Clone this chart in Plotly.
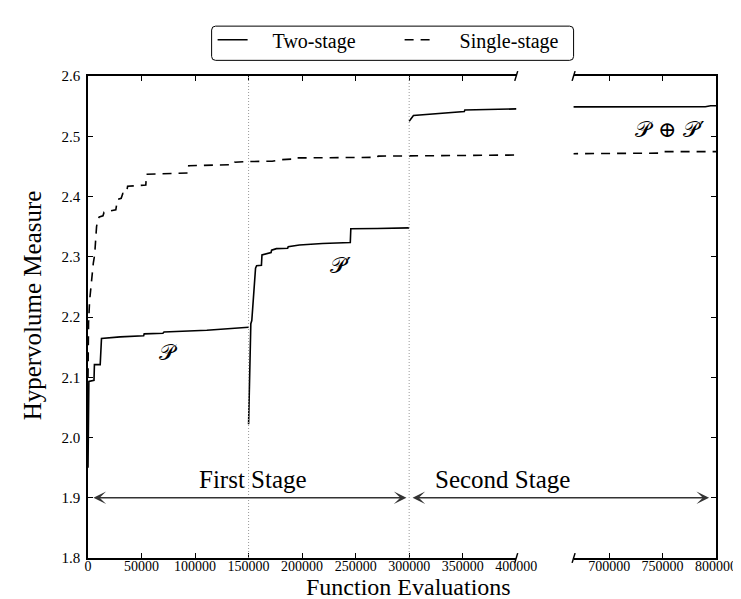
import plotly.graph_objects as go

# ---------------- data ----------------
two_stage_x = [0, 800, 5600, 6000, 11400, 11700, 12300, 12600, 30000, 52000, 52500, 70000, 71000,
               110000, 111000, 150000, None,
               150000, 151200, 152100, 153000, 154900, 156500, 157500, 162000, 162500, 166000,
               171000, 171500, 176000, 186500, 187000, 197500, 219000, 245000, 245500, 270000, 300000, None,
               300000, 304000, 351500, 352000, 400000, 667000, 790000, 795000, 800000]
two_stage_y = [1.95, 2.093, 2.095, 2.121, 2.121, 2.145, 2.145, 2.1645, 2.167, 2.169, 2.172, 2.173, 2.175,
               2.177, 2.178, 2.183, None,
               2.022, 2.124, 2.189, 2.194, 2.243, 2.281, 2.285, 2.286, 2.303, 2.305,
               2.307, 2.311, 2.3135, 2.314, 2.3165, 2.3195, 2.322, 2.3235, 2.3465, 2.347, 2.348, None,
               2.525, 2.5346, 2.541, 2.5435, 2.5454, 2.5487, 2.549, 2.5505, 2.5505]

single_stage_x = [0, 500, 1500, 3500, 5000, 6200, 8000, 9300, 10500, 14000, 15000, 26000, 27500, 31000,
                  32500, 36000, 37000, 54000, 54600, 93500, 94100, 136000, 137000, 150000, 172000,
                  180000, 190000, 191000, 270000, 271000, 400000, 667000, 748000, 750000, 800000]
single_stage_y = [2.10, 2.19, 2.227, 2.27, 2.29, 2.303, 2.35, 2.363, 2.366, 2.368, 2.374, 2.378, 2.395, 2.397,
                  2.405, 2.406, 2.417, 2.419, 2.437, 2.439, 2.451, 2.453, 2.457, 2.458, 2.4585,
                  2.461, 2.462, 2.464, 2.465, 2.467, 2.468, 2.472, 2.472, 2.4745, 2.4745]

left_ticks = [0, 50000, 100000, 150000, 200000, 250000, 300000, 350000, 400000]
left_tick_labels = ["0", "50000", "100000", "150000", "200000", "250000", "300000", "350000", "400000"]
right_ticks = [700000, 750000, 800000]
right_tick_labels = ["700000", "750000", "800000"]
y_ticks = [1.8, 1.9, 2.0, 2.1, 2.2, 2.3, 2.4, 2.5, 2.6]
y_tick_labels = ["1.8", "1.9", "2.0", "2.1", "2.2", "2.3", "2.4", "2.5", "2.6"]
stage_bounds = [150000, 300000]

# ---------------- geometry ----------------
W, H = 741, 599
ML, MR, MT, MB = 80, 26, 57, 49
PW, PH = W - ML - MR, H - MT - MB
left_end = 433 / PW
right_start = 491 / PW

def px(xp):
    return (xp - ML) / PW

def py(yp):
    return (H - MB - yp) / PH

SERIF = "Liberation Serif, Times New Roman, serif"
MATH = "DejaVu Serif, DejaVu Sans, serif"
PAD = "\u00a0" * 4
PRIME = "<span style='font-family:DejaVu Sans'>′</span>"

fig = go.Figure()
for xa, ya, show in (("x", "y", True), ("x2", "y2", False)):
    fig.add_trace(go.Scatter(x=two_stage_x, y=two_stage_y, mode="lines", name=PAD + "Two-stage",
                             line=dict(color="black", width=1.6), xaxis=xa, yaxis=ya,
                             showlegend=show, connectgaps=False))
    fig.add_trace(go.Scatter(x=single_stage_x, y=single_stage_y, mode="lines", name=PAD + "Single-stage",
                             line=dict(color="black", width=1.6, dash="9px,7px"), xaxis=xa, yaxis=ya,
                             showlegend=show))

axis_common = dict(showgrid=False, zeroline=False, showline=True, linecolor="black", linewidth=1.5,
                   ticks="inside", ticklen=5, tickwidth=1, tickcolor="black",
                   tickfont=dict(family=SERIF, size=15, color="black"))
xtickfont = dict(family=SERIF, size=14, color="black")

fig.update_layout(
    width=W, height=H, autosize=False,
    margin=dict(l=ML, r=MR, t=MT, b=MB, pad=0),
    plot_bgcolor="white", paper_bgcolor="white",
    xaxis=dict(domain=[0, left_end], range=[0, 400000], tickmode="array", tickvals=left_ticks,
               ticktext=left_tick_labels, mirror="ticks", anchor="y", ticklabelstandoff=-6,
               **{**axis_common, "tickfont": xtickfont}),
    xaxis2=dict(domain=[right_start, 1], range=[666667, 800000], tickmode="array", tickvals=right_ticks,
                ticktext=right_tick_labels, mirror="ticks", anchor="y2", ticklabelstandoff=-6,
                **{**axis_common, "tickfont": xtickfont}),
    yaxis=dict(domain=[0, 1], range=[1.8, 2.6], tickmode="array", tickvals=y_ticks, ticktext=y_tick_labels,
               anchor="x", ticklabelstandoff=3, **axis_common),
    yaxis2=dict(domain=[0, 1], range=[1.8, 2.6], tickmode="array", tickvals=y_ticks, showticklabels=False,
                anchor="x2", side="right", **axis_common),
    legend=dict(orientation="h", x=px(206), y=py(0), xanchor="left", yanchor="top",
                bgcolor="rgba(0,0,0,0)", borderwidth=0, font=dict(family=SERIF, size=20, color="black"),
                entrywidth=142, entrywidthmode="pixels", itemwidth=30),
)

shapes = []
# stage boundaries
for b in stage_bounds:
    shapes.append(dict(type="line", xref="x", yref="paper", x0=b, x1=b, y0=0, y1=1,
                       line=dict(color="#999999", width=1, dash="1px,2px")))
# axis break marks
for xb in (513, 571):
    for yb in (MT, H - MB):
        shapes.append(dict(type="line", xref="paper", yref="paper",
                           x0=px(xb - 1.5), x1=px(xb + 1.5), y0=py(yb + 5), y1=py(yb - 5),
                           line=dict(color="black", width=1.5)))
# legend frame with rounded corners (pixel coordinates converted to paper)
x0, x1, y0, y1, r = 205, 571, 6, 41, 4
path = (f"M {x0 + r},{y0} L {x1 - r},{y0} Q {x1},{y0} {x1},{y0 + r} L {x1},{y1 - r} Q {x1},{y1} {x1 - r},{y1} "
        f"L {x0 + r},{y1} Q {x0},{y1} {x0},{y1 - r} L {x0},{y0 + r} Q {x0},{y0} {x0 + r},{y0} Z")

def pix_path_to_paper(p):
    out = []
    for tok in p.split():
        if "," in tok:
            a, b = tok.split(",")
            out.append(f"{px(float(a)):.5f},{py(float(b)):.5f}")
        else:
            out.append(tok)
    return " ".join(out)

shapes.append(dict(type="path", xref="paper", yref="paper", path=pix_path_to_paper(path),
                   line=dict(color="black", width=1), fillcolor="rgba(0,0,0,0)"))
fig.update_layout(shapes=shapes)

ann = []
# stage arrows
ann.append(dict(xref="x", yref="y", x=297500, y=1.9, axref="x", ayref="y", ax=3700, ay=1.9, text="",
                showarrow=True, arrowside="end+start", arrowhead=3, startarrowhead=3, arrowsize=1.4,
                startarrowsize=1.4, arrowwidth=1.5, arrowcolor="#333333"))
ann.append(dict(xref="x2", yref="y", x=793500, y=1.9, ax=-(708 - 410), ay=0, text="",
                showarrow=True, arrowside="end+start", arrowhead=3, startarrowhead=3, arrowsize=1.4,
                startarrowsize=1.4, arrowwidth=1.5, arrowcolor="#333333"))
ann.append(dict(xref="x", yref="y", x=154300, y=1.931, text="First Stage", showarrow=False,
                font=dict(family=SERIF, size=25, color="black")))
ann.append(dict(xref="paper", yref="y", x=px(569), y=1.931, text="Second Stage", showarrow=False,
                font=dict(family=SERIF, size=25, color="black")))
# curve labels
ann.append(dict(xref="x", yref="y", x=75600, y=2.1406, text="𝒫", showarrow=False,
                font=dict(family=MATH, size=22, color="black")))
ann.append(dict(xref="x", yref="y", x=236000, y=2.285, text="𝒫" + PRIME, showarrow=False,
                font=dict(family=MATH, size=22, color="black")))
ann.append(dict(xref="x2", yref="y", x=756000, y=2.5115, text="𝒫 ⊕ 𝒫" + PRIME, showarrow=False,
                font=dict(family=MATH, size=22, color="black")))
# axis titles
ann.append(dict(xref="paper", yref="paper", x=px(404), y=py(595), text="Function Evaluations",
                showarrow=False, yanchor="bottom", font=dict(family=SERIF, size=24, color="black")))
ann.append(dict(xref="paper", yref="paper", x=px(24), y=py(292), text="Hypervolume Measure", textangle=-90,
                showarrow=False, xanchor="center", yanchor="middle", font=dict(family=SERIF, size=25, color="black")))
fig.update_layout(annotations=ann)

fig.write_html("out.html")
